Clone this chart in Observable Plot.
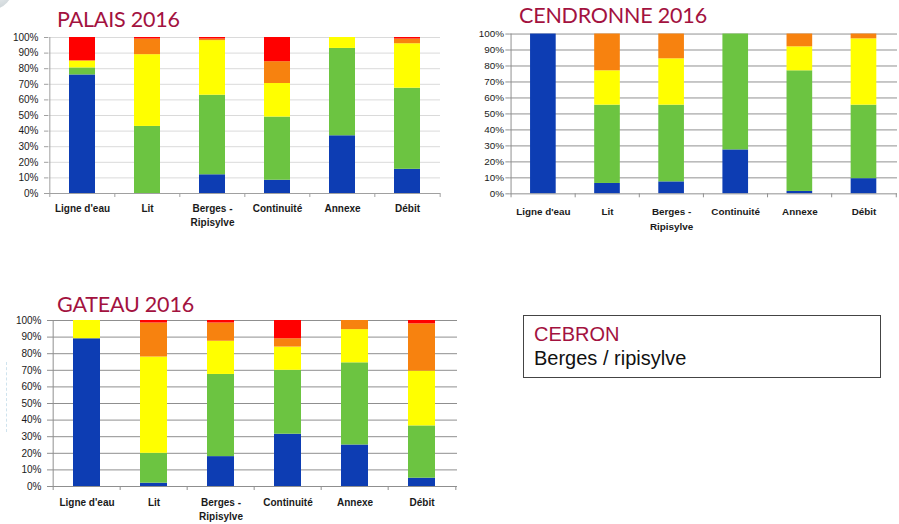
<!DOCTYPE html>
<html>
<head>
<meta charset="utf-8">
<script src="https://cdn.jsdelivr.net/npm/d3@7"></script>
<script src="https://cdn.jsdelivr.net/npm/@observablehq/plot@0.6"></script>
<style>
  html, body { margin: 0; padding: 0; }
  body { width: 899px; height: 524px; overflow: hidden; background: #fff; position: relative; font-family: "Liberation Sans", Arial, sans-serif; }
  .abs { position: absolute; }
  .title { font-family: Lato, "Open Sans", sans-serif; font-size: 21.5px; color: #a3123f; white-space: nowrap; line-height: 1; letter-spacing: -0.2px; }
  .box { border: 1px solid #444; box-sizing: border-box; }
  .box .l1 { color: #a3123f; font-size: 20px; }
  .box .l2 { color: #111; font-size: 20px; }
</style>
</head>
<body>
<div class="abs" style="left:-34px;top:-40px;width:48px;height:50px;border-radius:50%;background:radial-gradient(circle at 70% 70%, #e8ecee, #8a9aa0);"></div>
<div class="abs" style="left:6px;top:362px;height:70px;border-left:1px dashed #cfe3ee;"></div>

<div class="abs title" style="left:57px;top:9px;">PALAIS 2016</div>
<div class="abs title" style="left:519px;top:5px;">CENDRONNE 2016</div>
<div class="abs title" style="left:57px;top:294px;">GATEAU 2016</div>

<div id="palais" class="abs" style="left:0;top:0;"></div>
<div id="cendronne" class="abs" style="left:460px;top:0;"></div>
<div id="gateau" class="abs" style="left:0;top:290px;"></div>

<div class="abs box" style="left:523px;top:315px;width:358px;height:63px;">
  <div class="abs l1" style="left:10px;top:7px;">CEBRON</div>
  <div class="abs l2" style="left:10px;top:31px;">Berges / ripisylve</div>
</div>

<script>
const categories = ["Ligne d'eau", "Lit", "Berges -\nRipisylve", "Continuité", "Annexe", "Débit"];
const levels = ["bleu", "vert", "jaune", "orange", "rouge"];
const levelColors = ["#0d3db3", "#6cc441", "#ffff00", "#f7820f", "#ff0000"];
const yTicks = [0, 10, 20, 30, 40, 50, 60, 70, 80, 90, 100];

// PALAIS 2016 (%)
const palaisBleu   = [76, 0, 12, 8.5, 37, 15.5];
const palaisVert   = [4.5, 43, 51, 40.5, 56, 52];
const palaisJaune  = [4.5, 46, 35, 21.5, 7, 28.5];
const palaisOrange = [0, 10, 1, 14, 0, 3];
const palaisRouge  = [15, 1, 1, 15.5, 0, 1];

// CENDRONNE 2016 (%)
const cendronneBleu   = [100, 6.5, 7.5, 27.5, 1.5, 9.5];
const cendronneVert   = [0, 49, 48, 72.5, 75.5, 46];
const cendronneJaune  = [0, 21.5, 29, 0, 15, 41.5];
const cendronneOrange = [0, 23, 15.5, 0, 8, 3];
const cendronneRouge  = [0, 0, 0, 0, 0, 0];

// GATEAU 2016 (%)
const gateauBleu   = [89, 2, 18, 31.5, 25, 5];
const gateauVert   = [0, 18, 49.5, 38.5, 49.5, 31.5];
const gateauJaune  = [11, 58, 20, 14, 20, 33];
const gateauOrange = [0, 20.5, 11, 5, 5.5, 28.5];
const gateauRouge  = [0, 1.5, 1.5, 11, 0, 2];

function rows(series) {
  const out = [];
  categories.forEach((c, i) => {
    levels.forEach((lv, j) => out.push({cat: c, level: lv, value: series[j][i]}));
  });
  return out;
}

function chart(series, o) {
  const data = rows(series);
  const plotW = o.width - o.ml - o.mr;
  const step = plotW / categories.length;
  return Plot.plot({
    width: o.width,
    height: o.height,
    marginLeft: o.ml,
    marginRight: o.mr,
    marginTop: o.mt,
    marginBottom: o.mb,
    style: {fontFamily: "'Liberation Sans', Arial, sans-serif", fontSize: "10px", color: "#1a1a1a", background: "transparent", overflow: "visible"},
    x: {domain: categories, paddingInner: 0.6, paddingOuter: 0.3, label: null},
    y: {domain: [0, 100], label: null},
    color: {domain: levels, range: levelColors},
    marks: [
      Plot.gridY(yTicks.slice(1), {stroke: o.grid, strokeOpacity: 1}),
      Plot.barY(data, {x: "cat", y: "value", fill: "level"}),
      Plot.ruleY([0], {stroke: o.axis}),
      Plot.ruleX([categories[0]], {x: d => d, dx: -step / 2, y1: 0, y2: 100, stroke: o.axis}),
      Plot.ruleX(categories, {x: d => d, dx: -step / 2, y1: 0, y2: 0, insetBottom: -4, stroke: o.axis}),
      Plot.ruleX([categories[categories.length - 1]], {x: d => d, dx: step / 2, y1: 0, y2: 0, insetBottom: -4, stroke: o.axis}),
      Plot.axisY({ticks: yTicks, tickFormat: d => d + "%", tickSize: 4, tickPadding: o.yPad, stroke: o.axis, fill: "#1a1a1a", fontSize: 10}),
      Plot.axisX({tickSize: 0, tickPadding: o.xPad, fontWeight: "bold", fontSize: 10, lineHeight: o.lh, fill: "#1a1a1a"})
    ]
  });
}

document.getElementById("palais").append(chart(
  [palaisBleu, palaisVert, palaisJaune, palaisOrange, palaisRouge],
  {width: 450, height: 240, ml: 48, mr: 10, mt: 37, mb: 47, grid: "#dadada", axis: "#a0a0a0", yPad: 6, xPad: 9, lh: 1.4}
));
document.getElementById("cendronne").append(chart(
  [cendronneBleu, cendronneVert, cendronneJaune, cendronneOrange, cendronneRouge],
  {width: 445, height: 240, ml: 50, mr: 2, mt: 34, mb: 44, grid: "#8f8f8f", axis: "#8f8f8f", yPad: 2, xPad: 11, lh: 1.5}
));
document.getElementById("gateau").append(chart(
  [gateauBleu, gateauVert, gateauJaune, gateauOrange, gateauRouge],
  {width: 460, height: 234, ml: 51, mr: 3, mt: 30, mb: 38, grid: "#8f8f8f", axis: "#8f8f8f", yPad: 6, xPad: 10, lh: 1.4}
));
</script>
</body>
</html>
